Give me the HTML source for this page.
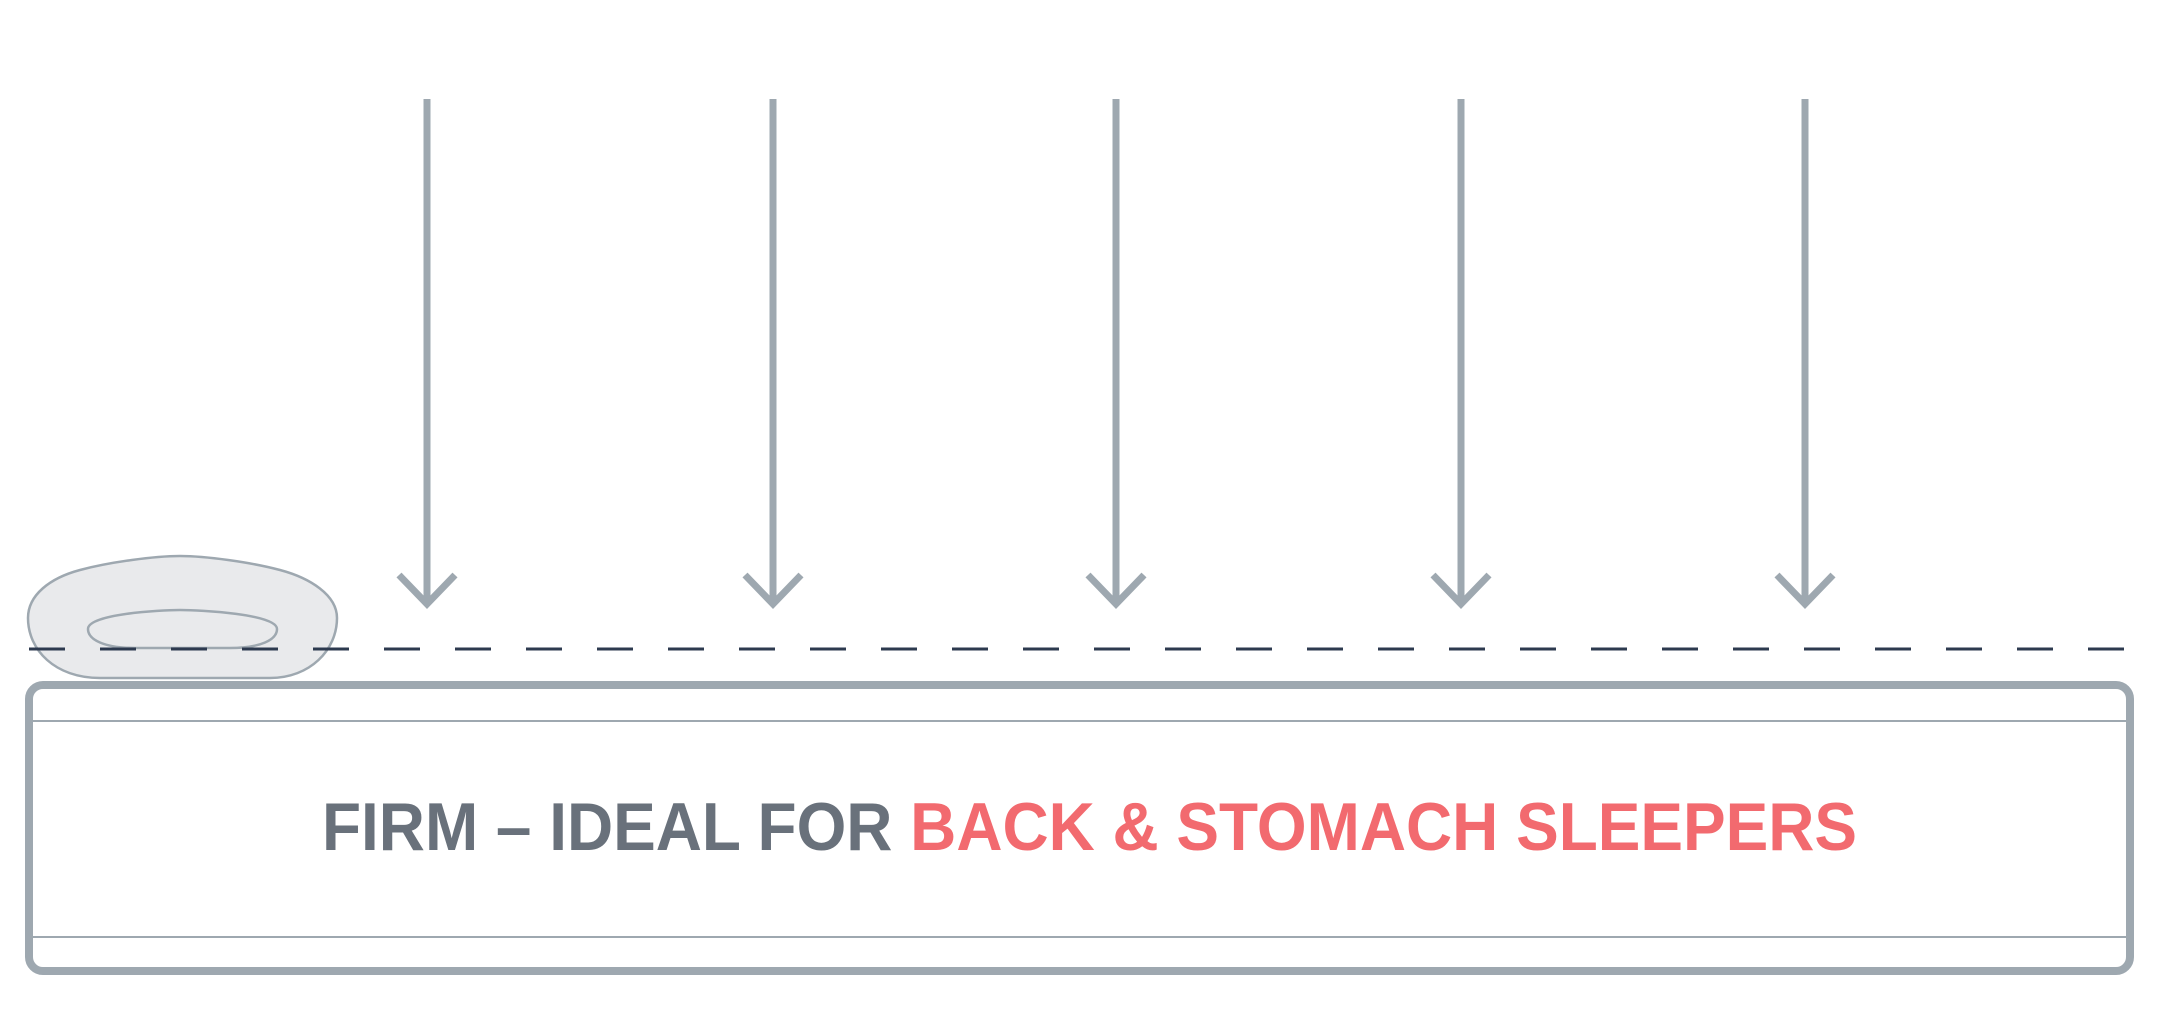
<!DOCTYPE html>
<html><head><style>html,body{margin:0;padding:0;background:#fff;}svg{display:block}</style></head>
<body>
<svg width="2160" height="1027" viewBox="0 0 2160 1027" xmlns="http://www.w3.org/2000/svg">
<g stroke="#9ea8b0" stroke-width="7" fill="none">
<line x1="427" y1="99" x2="427" y2="604"/><polyline points="399,575 427,604 455,575"/>
<line x1="773" y1="99" x2="773" y2="604"/><polyline points="745,575 773,604 801,575"/>
<line x1="1116" y1="99" x2="1116" y2="604"/><polyline points="1088,575 1116,604 1144,575"/>
<line x1="1461" y1="99" x2="1461" y2="604"/><polyline points="1433,575 1461,604 1489,575"/>
<line x1="1805" y1="99" x2="1805" y2="604"/><polyline points="1777,575 1805,604 1833,575"/>
</g>
<path d="M100,678 L270,678 C310,678 337,650 337,618 C337,595 310,578 280,570 C250,562 205,556 180,556 C155,556 110,562 80,570 C50,578 28,595 28,618 C28,650 55,678 100,678 Z" fill="#e9eaec" stroke="#9ea8b0" stroke-width="2.5"/>
<path d="M135,648 L230,648 C260,648 277,640 277,629 C277,614 200,610 180,610 C160,610 88,614 88,629 C88,640 105,648 135,648 Z" fill="none" stroke="#9ea8b0" stroke-width="2.5"/>
<line x1="29" y1="649" x2="2130" y2="649" stroke="#2d3a4f" stroke-width="3" stroke-dasharray="36,35"/>
<rect x="29" y="685" width="2101" height="286" rx="14" fill="none" stroke="#9ea8b0" stroke-width="8"/>
<line x1="33" y1="721" x2="2126" y2="721" stroke="#9ea8b0" stroke-width="2"/>
<line x1="33" y1="937" x2="2126" y2="937" stroke="#9ea8b0" stroke-width="2"/>
<text x="322" y="850" font-family="Liberation Sans, sans-serif" font-weight="bold" font-size="68" textLength="1535" lengthAdjust="spacingAndGlyphs" fill="#69717b">FIRM – IDEAL FOR <tspan fill="#f26a6f">BACK &amp; STOMACH SLEEPERS</tspan></text>
</svg>
</body></html>
